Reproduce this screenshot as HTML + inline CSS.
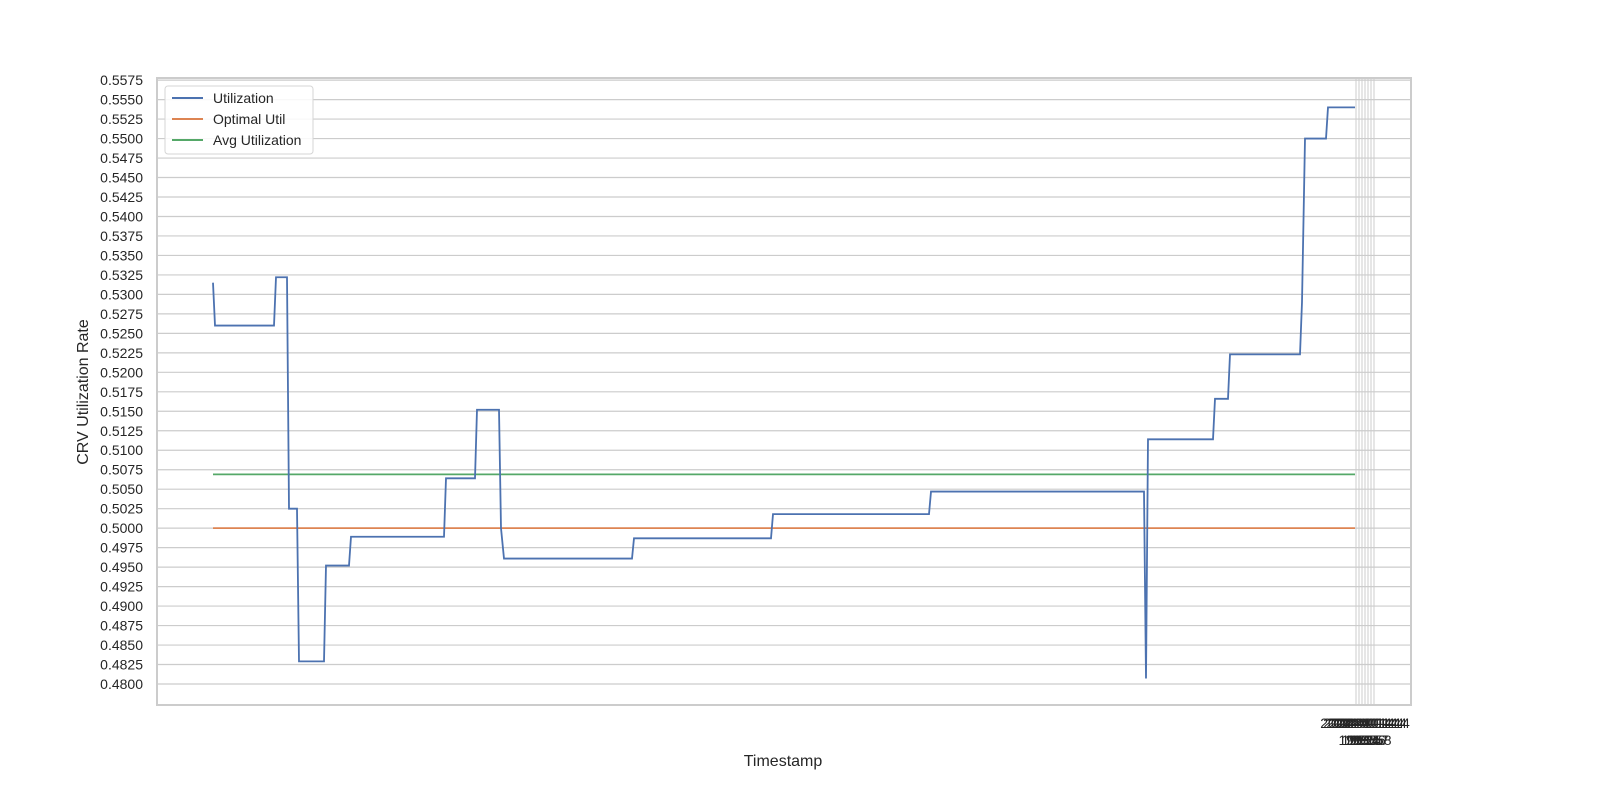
<!DOCTYPE html>
<html><head><meta charset="utf-8"><style>
body{margin:0;background:#fff;font-family:"Liberation Sans",sans-serif}
svg text{font-family:"Liberation Sans",sans-serif;fill:#262626}
</style></head><body>
<svg id="c" width="1600" height="800">
<rect x="0" y="0" width="1600" height="800" fill="#fff"/>
<g id="grid"></g><g id="yt"></g><g id="xt"></g><g id="lines"></g>
<rect x="157" y="78" width="1254" height="627" fill="none" stroke="#cccccc" stroke-width="2"/>
<text x="783" y="766" font-size="16" text-anchor="middle">Timestamp</text>
<text transform="translate(88,392) rotate(-90)" font-size="16" text-anchor="middle">CRV Utilization Rate</text>
<g>
<rect x="165" y="86" width="148" height="68" rx="3" fill="#fff" fill-opacity="0.85" stroke="#d6d6d6"/>
<g><line x1="172" y1="98" x2="203" y2="98" stroke="#4c72b0" stroke-width="2"/><text x="213" y="103" font-size="14">Utilization</text></g>
<g><line x1="172" y1="119" x2="203" y2="119" stroke="#dd8452" stroke-width="2"/><text x="213" y="124" font-size="14">Optimal Util</text></g>
<g><line x1="172" y1="140" x2="203" y2="140" stroke="#55a868" stroke-width="2"/><text x="213" y="145" font-size="14">Avg Utilization</text></g>
</g>
</svg>
<script>
const times=[0,2,61,63,74,76,84,86,111,113,136,138,231,233,262,264,286,288,291,419,421,558,560,716,718,931,933,935,1000,1002,1015,1017,1087,1089,1092,1113,1115,1142];
const util=[0.5315,0.5260,0.5260,0.5322,0.5322,0.5025,0.5025,0.4829,0.4829,0.4952,0.4952,0.4989,0.4989,0.5064,0.5064,0.5152,0.5152,0.5000,0.4961,0.4961,0.4987,0.4987,0.5018,0.5018,0.5047,0.5047,0.4807,0.5114,0.5114,0.5166,0.5166,0.5223,0.5223,0.5290,0.5500,0.5500,0.5540,0.5540];
const optimal=0.5000;
const avgUtil=0.5069;
const yTicks=[0.4800,0.4825,0.4850,0.4875,0.4900,0.4925,0.4950,0.4975,0.5000,0.5025,0.5050,0.5075,0.5100,0.5125,0.5150,0.5175,0.5200,0.5225,0.5250,0.5275,0.5300,0.5325,0.5350,0.5375,0.5400,0.5425,0.5450,0.5475,0.5500,0.5525,0.5550,0.5575];
const xTickPos=[1143,1146,1149,1152,1155,1158,1161];
const xTickLabels=["2024-01-14","2024-01-14","2024-01-14","2024-01-14","2024-01-14","2024-01-14","2024-01-14"];
const xTickLabels2=["19:52","19:53","19:54","19:55","19:56","19:57","19:58"];
const NS="http://www.w3.org/2000/svg";
const x=t=>213+t*(1355-213)/1142;
const y=v=>684-(v-0.48)/0.0025*19.48;
function mk(tag,at,parent){const e=document.createElementNS(NS,tag);for(const k in at)e.setAttribute(k,at[k]);document.getElementById(parent).appendChild(e);return e;}
yTicks.forEach(v=>{
 const g=mk('line',{x1:157,x2:1411,y1:y(v),y2:y(v),stroke:'#cccccc','stroke-width':1.2},'grid');
 
 
 const t=mk('text',{x:143,y:y(v)+5,'font-size':14,'text-anchor':'end'},'yt');
 t.textContent=v.toFixed(4);
 
 
});
xTickPos.forEach((p,i)=>{
 const g=mk('line',{x1:x(p),x2:x(p),y1:78,y2:705,stroke:'#cccccc','stroke-width':1},'grid');
 
 
 const t=mk('text',{x:x(p),y:728,'font-size':14,'text-anchor':'middle'},'xt');
 t.textContent=xTickLabels[i];
 
 
 const t2=mk('text',{x:x(p),y:745,'font-size':14,'text-anchor':'middle'},'xt');
 t2.textContent=xTickLabels2[i];
 
 
});
const o=mk('line',{x1:x(0),x2:x(times[times.length-1]),y1:y(optimal),y2:y(optimal),stroke:'#dd8452','stroke-width':1.8},'lines');


const a=mk('line',{x1:x(0),x2:x(times[times.length-1]),y1:y(avgUtil),y2:y(avgUtil),stroke:'#55a868','stroke-width':1.8},'lines');


const u=mk('polyline',{points:times.map((t,i)=>x(t)+','+y(util[i])).join(' '),fill:'none',stroke:'#4c72b0','stroke-width':1.8},'lines');


</script>
</body></html>
